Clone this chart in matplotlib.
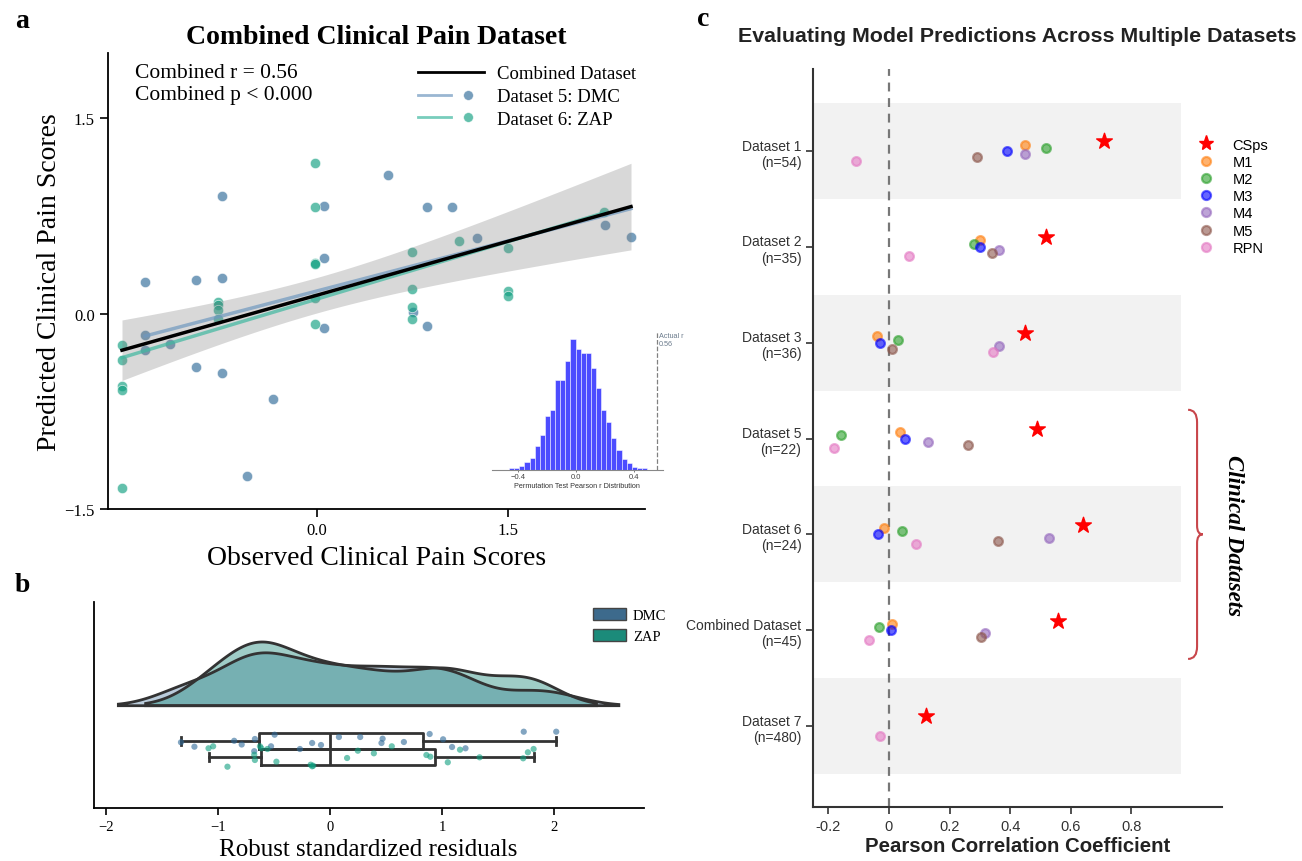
import numpy as np
import matplotlib
matplotlib.use("Agg")
import matplotlib.pyplot as plt
from matplotlib.lines import Line2D
from matplotlib.patches import Patch, PathPatch
from matplotlib.path import Path
from matplotlib.legend_handler import HandlerTuple
import matplotlib.transforms as mtransforms

SERIF = ["Liberation Serif", "DejaVu Serif"]
SANS = ["Liberation Sans", "DejaVu Sans"]
plt.rcParams["font.family"] = SERIF
plt.rcParams["axes.unicode_minus"] = True

# ---------------- Panel a data ----------------
dmc_obs = [-1.354, -0.953, -0.748, -0.748, 0.055, 0.556, 0.055, 0.861, 1.058, 2.268, 2.47,
           1.262, 0.758, 0.861, 0.055, -1.354, -1.354, -1.155, -0.953, -0.748, -0.349, -0.551]
dmc_pred = [0.244, 0.26, 0.27, 0.90, 0.823, 1.06, 0.425, 0.815, 0.815, 0.68, 0.587,
            0.58, 0.01, -0.097, -0.108, -0.164, -0.277, -0.233, -0.41, -0.456, -0.654, -1.25]
zap_obs = [-0.016, -0.016, -0.016, -0.016, -0.78, -0.78, -0.78, -0.78, 2.26, 1.12, 1.50, 0.743,
           0.743, 1.50, 1.50, 0.743, 0.743, -0.016, -0.016, -1.535, -1.535, -1.535, -1.535, -1.535]
zap_pred = [1.156, 0.815, 0.39, 0.38, 0.085, 0.069, 0.031, -0.038, 0.78, 0.554, 0.50, 0.472,
            0.185, 0.17, 0.138, 0.054, -0.04, 0.12, -0.08, -0.24, -0.354, -0.554, -0.59, -1.338]
combined_r_text = "Combined r = 0.56\nCombined p < 0.000"

perm_bin_start = -0.46
perm_bin_width = 0.0352
perm_counts = [1, 1, 3, 6, 9, 18, 26, 40, 45, 67, 67, 81, 98, 90, 87, 87, 76, 61, 45, 36,
               24, 15, 8, 5, 2, 1, 1]
actual_r = 0.56

# ---------------- Panel b data ----------------
dmc_resid = [-1.33, -1.21, -0.855, -0.788, -0.676, -0.67, -0.526, -0.494, -0.268, -0.159, -0.08,
             0.08, 0.27, 0.46, 0.47, 0.66, 0.89, 1.01, 1.09, 1.21, 1.73, 2.02]
dmc_jitter = [-0.013, -0.057, 0.002, -0.035, -0.102, 0.02, -0.053, 0.063, -0.08, -0.02, -0.04,
              0.04, 0.04, -0.02, 0.023, -0.01, 0.07, 0.017, -0.06, -0.073, 0.093, 0.093]
zap_resid = [-1.084, -1.043, -0.915, -0.676, -0.670, -0.625, -0.612, -0.558, -0.478, -0.172,
             -0.159, -0.15, 0.153, 0.249, 0.392, 0.552, 0.861, 0.896, 1.052, 1.161, 1.336,
             1.725, 1.767, 1.818]
zap_jitter = [0.087, 0.107, -0.097, 0.023, -0.03, 0.107, 0.087, 0.08, -0.047, -0.077, -0.093,
              -0.087, -0.01, 0.063, 0.037, 0.107, 0.02, 0.003, -0.053, 0.073, -0.003, -0.013,
              0.047, 0.08]

# ---------------- Panel c data ----------------
dataset_labels = ["Dataset 1\n(n=54)", "Dataset 2\n(n=35)", "Dataset 3\n(n=36)",
                  "Dataset 5\n(n=22)", "Dataset 6\n(n=24)", "Combined Dataset\n(n=45)",
                  "Dataset 7\n(n=480)"]
model_names = ["CSps", "M1", "M2", "M3", "M4", "M5", "RPN"]
csps_r = [0.710, 0.520, 0.450, 0.490, 0.640, 0.559, 0.121]
m1_r = [0.450, 0.301, -0.040, 0.036, -0.016, 0.011, np.nan]
m2_r = [0.520, 0.280, 0.031, -0.158, 0.043, -0.033, np.nan]
m3_r = [0.390, 0.301, -0.029, 0.053, -0.037, 0.008, np.nan]
m4_r = [0.450, 0.362, 0.362, 0.128, 0.529, 0.318, np.nan]
m5_r = [0.290, 0.340, 0.011, 0.262, 0.359, 0.303, np.nan]
rpn_r = [-0.108, 0.067, 0.345, -0.182, 0.090, -0.067, -0.029]
model_colors = ["red", "#ff7f0e", "#2ca02c", "#0000ff", "#9467bd", "#8c564b", "#e377c2"]

C_DMC = "#2f6a98"
C_ZAP = "#0f9f80"

W, H = 1302, 862
fig = plt.figure(figsize=(W / 100, H / 100), dpi=100)


def fax(l, t, r, b):
    return fig.add_axes([l / W, 1 - b / H, (r - l) / W, (b - t) / H])


# ======================= Panel a =======================
ax = fax(108, 54, 645, 510)
ax.scatter(dmc_obs, dmc_pred, s=55, color=C_DMC, alpha=0.65, edgecolor="white",
           linewidth=0.6, zorder=3)
ax.scatter(zap_obs, zap_pred, s=55, color=C_ZAP, alpha=0.65, edgecolor="white",
           linewidth=0.6, zorder=3)


def fit(x, y, grid):
    x = np.asarray(x, float)
    y = np.asarray(y, float)
    b1, b0 = np.polyfit(x, y, 1)
    yhat = b0 + b1 * grid
    n = len(x)
    res = y - (b0 + b1 * x)
    s = np.sqrt(np.sum(res ** 2) / (n - 2))
    se = s * np.sqrt(1 / n + (grid - x.mean()) ** 2 / np.sum((x - x.mean()) ** 2))
    return yhat, yhat - 2.015 * se, yhat + 2.015 * se


all_obs = np.array(dmc_obs + zap_obs)
all_pred = np.array(dmc_pred + zap_pred)
g_all = np.linspace(all_obs.min(), all_obs.max(), 100)
yh, lo, hi = fit(all_obs, all_pred, g_all)
ax.fill_between(g_all, lo, hi, color="gray", alpha=0.3, linewidth=0, zorder=4)
g_d = np.linspace(min(dmc_obs), max(dmc_obs), 100)
ax.plot(g_d, fit(dmc_obs, dmc_pred, g_d)[0], color="#6f98bf", lw=2.5, alpha=0.7, zorder=5)
g_z = np.linspace(min(zap_obs), max(zap_obs), 100)
ax.plot(g_z, fit(zap_obs, zap_pred, g_z)[0], color="#3fb8a0", lw=2.5, alpha=0.7, zorder=5)
ax.plot(g_all, yh, color="black", lw=2.5, zorder=6)

ax.set_xlim(-1.645, 2.58)
ax.set_ylim(-1.5, 2.0)
ax.set_xticks([0.0, 1.5])
ax.set_yticks([-1.5, 0.0, 1.5])
ax.tick_params(labelsize=12, length=6, width=1.2)
for sp in ["top", "right"]:
    ax.spines[sp].set_visible(False)
for sp in ["left", "bottom"]:
    ax.spines[sp].set_linewidth(1.3)
ax.set_xlabel("Observed Clinical Pain Scores", fontsize=20, labelpad=5)
ax.set_ylabel("Predicted Clinical Pain Scores", fontsize=20, labelpad=2)
ax.set_title("Combined Clinical Pain Dataset", fontsize=20, fontweight="bold", pad=7)
ax.text(0.05, 0.979, combined_r_text, transform=ax.transAxes, fontsize=15.5, va="top",
        ha="left", linespacing=1.25)

h_comb = Line2D([0], [0], color="black", lw=2)
h_dmc = (Line2D([0], [0], color="#6f98bf", lw=2, alpha=0.7),
         Line2D([0], [0], marker="o", ls="none", color=C_DMC, alpha=0.65, ms=7,
                markeredgecolor="white", markeredgewidth=0.5))
h_zap = (Line2D([0], [0], color="#3fb8a0", lw=2, alpha=0.7),
         Line2D([0], [0], marker="o", ls="none", color=C_ZAP, alpha=0.65, ms=7,
                markeredgecolor="white", markeredgewidth=0.5))
ax.legend([h_comb, h_dmc, h_zap], ["Combined Dataset", "Dataset 5: DMC", "Dataset 6: ZAP"],
          handler_map={tuple: HandlerTuple(ndivide=None, pad=0.0)}, loc="upper right",
          bbox_to_anchor=(1.015, 1.01), frameon=False, fontsize=13.5, handlelength=3.5,
          handletextpad=0.7, labelspacing=0.3)

# inset histogram
axi = fax(491.7, 333, 663, 470.7)
axi.patch.set_alpha(0)
edges = perm_bin_start + perm_bin_width * np.arange(len(perm_counts))
axi.bar(edges, perm_counts, width=perm_bin_width, align="edge", color="blue", alpha=0.7,
        edgecolor="white", linewidth=0.5)
axi.axvline(actual_r, color="gray", ls="--", lw=0.9)
axi.text(actual_r + 0.01, 103, "Actual r\n%.2f" % actual_r, fontsize=5.2, color="#6b7b8c",
         va="top", ha="left", family=SANS)
axi.set_xlim(-0.58, 0.6)
axi.set_ylim(0, 103)
axi.set_yticks([])
axi.set_xticks([-0.4, 0.0, 0.4])
axi.tick_params(labelsize=5.5, length=1.5, width=0.5, pad=1, colors="#444")
for lab in axi.get_xticklabels():
    lab.set_family(SANS)
for sp in ["top", "right", "left"]:
    axi.spines[sp].set_visible(False)
axi.spines["bottom"].set_color("#888")
axi.spines["bottom"].set_linewidth(0.8)
axi.set_xlabel("Permutation Test Pearson r Distribution", fontsize=5.2, family=SANS,
               labelpad=1, color="#333")

# ======================= Panel b =======================
axb = fax(93.6, 603, 643.6, 809)


def kde(data, grid, bw):
    d = np.asarray(data)
    z = (grid[:, None] - d[None, :]) / bw
    return np.exp(-0.5 * z ** 2).sum(1) / (len(d) * bw * np.sqrt(2 * np.pi))


curves = []
for dat in (dmc_resid, zap_resid):
    d = np.asarray(dat)
    bw = 0.3 * d.std(ddof=1)
    gx = np.linspace(d.min() - 2 * bw, d.max() + 2 * bw, 300)
    curves.append((gx, kde(d, gx, bw) * len(d)))   # density scaled by count
scale = 0.637 / max(c[1].max() for c in curves)
fills = [("#3a6f98", 0.35), ("#1a8a7a", 0.42)]
for (gx, dens), (fc, al) in zip(curves, fills):
    xs = np.concatenate([gx, gx[::-1]])
    ys = np.concatenate([dens * scale, np.zeros_like(gx)])
    axb.fill(xs, ys, facecolor=fc, alpha=al, edgecolor="none", zorder=2)
    axb.fill(xs, ys, facecolor="none", edgecolor="#333333", lw=2, zorder=3)

box_pos = [-0.353, -0.513]
lineprops = dict(color="#333333", linewidth=2)
axb.boxplot([dmc_resid, zap_resid], positions=box_pos, widths=0.16, orientation="horizontal",
            showfliers=False, boxprops=lineprops, whiskerprops=lineprops, capprops=lineprops,
            medianprops=lineprops, manage_ticks=False, zorder=4)
axb.scatter(dmc_resid, box_pos[0] + np.asarray(dmc_jitter), s=20, color=C_DMC, alpha=0.6,
            edgecolor="none", zorder=5)
axb.scatter(zap_resid, box_pos[1] + np.asarray(zap_jitter), s=20, color=C_ZAP, alpha=0.6,
            edgecolor="none", zorder=5)
axb.set_xlim(-2.11, 2.8)
axb.set_ylim(-1.023, 1.037)
axb.set_yticks([])
axb.set_xticks([-2, -1, 0, 1, 2])
axb.tick_params(labelsize=10.5, length=5, width=1.2)
for sp in ["top", "right"]:
    axb.spines[sp].set_visible(False)
for sp in ["left", "bottom"]:
    axb.spines[sp].set_linewidth(1.3)
axb.set_xlabel("Robust standardized residuals", fontsize=18, labelpad=4)
axb.legend([Patch(facecolor="#3d6a8c", edgecolor="#444", lw=1),
            Patch(facecolor="#1b8b7a", edgecolor="#444", lw=1)], ["DMC", "ZAP"],
           loc="upper left", bbox_to_anchor=(0.885, 1.035), frameon=False, fontsize=10.5,
           handlelength=2.2, handleheight=0.9, handletextpad=0.5, labelspacing=0.45)

# ======================= Panel c =======================
axc = fax(813.3, 70, 1222, 808)
n_rows = len(dataset_labels)
rows = np.arange(n_rows)
for i in rows:
    if i % 2 == 0:
        axc.axhspan(i - 0.5, i + 0.5, xmin=0, xmax=0.9, color="#f2f2f2", lw=0, zorder=0)
axc.axvline(0, color="#777777", ls=(0, (4, 3)), lw=1.6, zorder=1)
series = [csps_r, m1_r, m2_r, m3_r, m4_r, m5_r, rpn_r]
offsets = np.linspace(-0.1, 0.1, len(series))
for k, (vals, col, name) in enumerate(zip(series, model_colors, model_names)):
    v = np.asarray(vals, float)
    if name == "CSps":
        axc.scatter(v, rows + offsets[k], marker="*", s=140, color=col, zorder=4)
    else:
        axc.scatter(v, rows + offsets[k], marker="o", s=40, color=col, alpha=0.6,
                    edgecolor=col, linewidth=1.6, zorder=3)
axc.set_xlim(-0.25, 1.1)
axc.set_ylim(n_rows - 1 + 0.845, -0.856)
axc.set_yticks(rows)
axc.set_yticklabels(dataset_labels, family=SANS, fontsize=10, color="#333")
axc.set_xticks([-0.2, 0, 0.2, 0.4, 0.6, 0.8])
axc.set_xticklabels(["-0.2", "0", "0.2", "0.4", "0.6", "0.8"], family=SANS, fontsize=10.5,
                    color="#333")
axc.tick_params(length=5, width=1.2, colors="#333")
for sp in ["top", "right"]:
    axc.spines[sp].set_visible(False)
for sp in ["left", "bottom"]:
    axc.spines[sp].set_linewidth(1.5)
    axc.spines[sp].set_color("#333")
axc.set_xlabel("Pearson Correlation Coefficient", family=SANS, fontsize=14.7,
               fontweight="bold", color="#222", labelpad=2)
axc.set_title("Evaluating Model Predictions Across Multiple Datasets", family=SANS,
              fontsize=15.4, fontweight="bold", color="#222", pad=20)

leg_handles = [Line2D([0], [0], marker="*", ls="none", color="red", ms=11)]
for col in model_colors[1:]:
    leg_handles.append(Line2D([0], [0], marker="o", ls="none", color=col, alpha=0.6,
                              markeredgecolor=col, markeredgewidth=1.6, ms=6.5))
axc.legend(leg_handles, model_names, loc="upper left", bbox_to_anchor=(0.912, 0.915),
           frameon=False, prop={"family": SANS, "size": 10.5}, handletextpad=0.8,
           labelspacing=0.22, borderaxespad=0)

# curly brace for clinical datasets
trans = mtransforms.blended_transform_factory(axc.transAxes, axc.transData)
x0, x1, x2 = 0.917, 0.939, 0.953
yt, ym, yb = 2.7, 4.0, 5.3
r1, r2 = 0.13, 0.09
verts = [(x0, yt), (x1, yt), (x1, yt + r1), (x1, ym - r2), (x1, ym), (x2, ym),
         (x1, ym), (x1, ym + r2), (x1, yb - r1), (x1, yb), (x0, yb)]
codes = [Path.MOVETO, Path.CURVE3, Path.CURVE3, Path.LINETO, Path.CURVE3, Path.CURVE3,
         Path.CURVE3, Path.CURVE3, Path.LINETO, Path.CURVE3, Path.CURVE3]
axc.add_patch(PathPatch(Path(verts, codes), fill=False, edgecolor="#c8464b", lw=1.5,
                        transform=trans, clip_on=False))
axc.text(1.027, ym, "Clinical Datasets", transform=trans, rotation=270, ha="center",
         va="center", fontsize=16.5, fontweight="bold", style="italic", family=SERIF,
         clip_on=False)

# panel letters
for letter, (px, py) in {"a": (15, 22), "b": (15, 586), "c": (697, 20)}.items():
    fig.text(px / W, 1 - py / H, letter, fontsize=20, fontweight="bold", family=SERIF,
             ha="left", va="center")

fig.savefig("out.png", dpi=100)
